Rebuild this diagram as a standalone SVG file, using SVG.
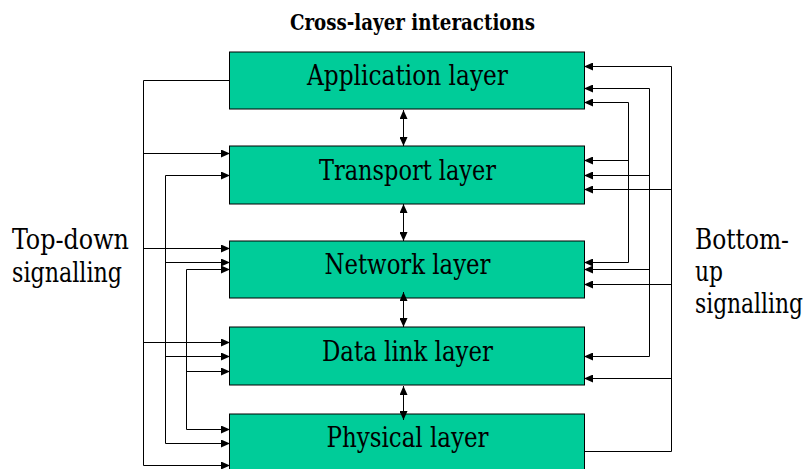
<svg xmlns="http://www.w3.org/2000/svg" width="809" height="469" viewBox="0 0 809 469">
  <defs>
    <marker id="arrow" markerWidth="9" markerHeight="8" refX="9" refY="4" orient="auto" markerUnits="userSpaceOnUse">
      <path d="M0,0 L9,4 L0,8 z" fill="#000"/>
    </marker>
    <marker id="arrowStart" markerWidth="9" markerHeight="8" refX="0" refY="4" orient="auto" markerUnits="userSpaceOnUse">
      <path d="M9,0 L0,4 L9,8 z" fill="#000"/>
    </marker>
  </defs>
  <style>
    text { font-family: "DejaVu Serif", "Liberation Serif", serif; font-stretch: condensed; fill: #000; }
    .layer rect { fill: #00CC99; stroke: #000; stroke-width: 1; }
    .layer text { font-size: 27px; text-anchor: middle; }
    .caption { font-size: 27px; }
    .title { font-size: 23px; font-weight: bold; text-anchor: middle; }
    .link { fill: none; stroke: #000; stroke-width: 1; }
    .sig { marker-end: url(#arrow); }
    .both { marker-start: url(#arrowStart); marker-end: url(#arrow); }
  </style>

  <rect width="809" height="469" fill="#fff"/>

  <text class="title" x="412.5" y="30" textLength="245" lengthAdjust="spacingAndGlyphs">Cross-layer interactions</text>

  <g id="application-layer" class="layer">
    <rect x="229.5" y="52" width="355" height="57"/>
    <text x="407.5" y="85" textLength="201" lengthAdjust="spacingAndGlyphs">Application layer</text>
  </g>
  <g id="transport-layer" class="layer">
    <rect x="229.5" y="146" width="355" height="58"/>
    <text x="407.5" y="180" textLength="177" lengthAdjust="spacingAndGlyphs">Transport layer</text>
  </g>
  <g id="network-layer" class="layer">
    <rect x="229.5" y="241" width="355" height="57"/>
    <text x="407.5" y="274" textLength="166" lengthAdjust="spacingAndGlyphs">Network layer</text>
  </g>
  <g id="data-link-layer" class="layer">
    <rect x="229.5" y="327" width="355" height="58"/>
    <text x="407.5" y="361" textLength="171" lengthAdjust="spacingAndGlyphs">Data link layer</text>
  </g>
  <g id="physical-layer" class="layer">
    <rect x="229.5" y="414" width="355" height="58"/>
    <text x="407.5" y="447" textLength="162" lengthAdjust="spacingAndGlyphs">Physical layer</text>
  </g>

  <g id="top-down-label">
    <text class="caption" x="12" y="249" textLength="117" lengthAdjust="spacingAndGlyphs">Top-down</text>
    <text class="caption" x="12" y="282" textLength="110" lengthAdjust="spacingAndGlyphs">signalling</text>
  </g>
  <g id="bottom-up-label">
    <text class="caption" x="695" y="249" textLength="94" lengthAdjust="spacingAndGlyphs">Bottom-</text>
    <text class="caption" x="695" y="281" textLength="28" lengthAdjust="spacingAndGlyphs">up</text>
    <text class="caption" x="695" y="313" textLength="108" lengthAdjust="spacingAndGlyphs">signalling</text>
  </g>

  <g id="connectors">
    <!-- exchanges between adjacent layers -->
    <path class="link both" d="M403.5,110 V146"/>
    <path class="link both" d="M403.5,204 V241"/>
    <path class="link both" d="M403.5,292 V327"/>
    <path class="link both" d="M403.5,386 V420"/>

    <!-- top-down: application layer to all lower layers -->
    <path class="link sig" d="M229,80.5 H143.5 V465.5 H230"/>
    <path class="link sig" d="M143.5,153.5 H230"/>
    <path class="link sig" d="M143.5,248.5 H230"/>
    <path class="link sig" d="M143.5,342.5 H230"/>
    <!-- top-down: transport bus -->
    <path class="link sig" d="M230,175.5 H165.5 V443.5 H230" style="marker-start:url(#arrowStart)"/>
    <path class="link sig" d="M165.5,262.5 H230"/>
    <path class="link sig" d="M165.5,356.5 H230"/>
    <!-- top-down: network bus -->
    <path class="link sig" d="M230,269.5 H186.5 V429.5 H230" style="marker-start:url(#arrowStart)"/>
    <path class="link sig" d="M186.5,371.5 H230"/>

    <!-- bottom-up: physical layer to all upper layers -->
    <path class="link sig" d="M585,451.5 H671.5 V66.5 H584"/>
    <path class="link sig" d="M671.5,189.5 H584"/>
    <path class="link sig" d="M671.5,284.5 H584"/>
    <path class="link sig" d="M671.5,378.5 H584"/>
    <!-- bottom-up: data link bus -->
    <path class="link sig" d="M584,356.5 H649.5 V88.5 H584" style="marker-start:url(#arrowStart)"/>
    <path class="link sig" d="M649.5,175.5 H584"/>
    <path class="link sig" d="M649.5,269.5 H584"/>
    <!-- bottom-up: network bus -->
    <path class="link sig" d="M584,262.5 H628.5 V102.5 H584" style="marker-start:url(#arrowStart)"/>
    <path class="link sig" d="M628.5,160.5 H584"/>
  </g>
</svg>
